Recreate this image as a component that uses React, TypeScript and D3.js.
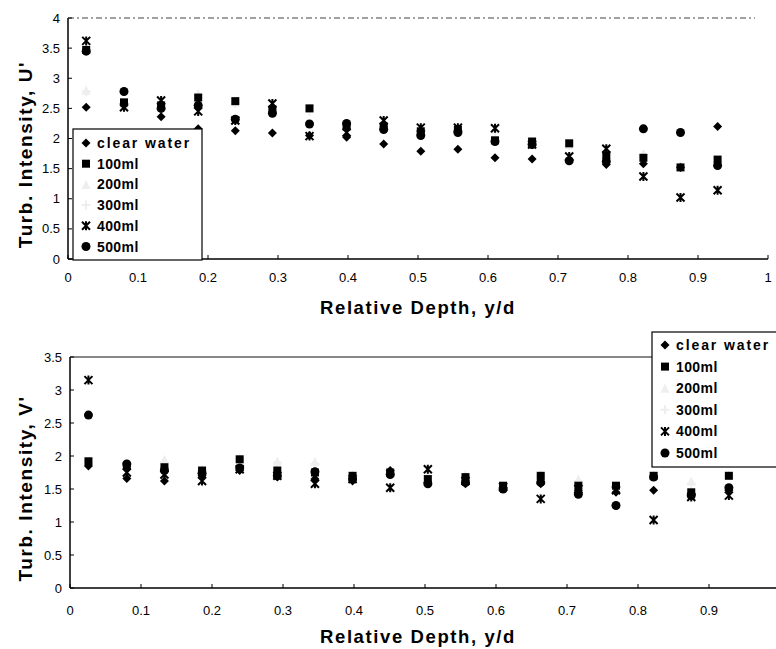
import * as d3 from "d3";

// relative depth positions of the measurement points
const depths = [0.026, 0.08, 0.133, 0.186, 0.239, 0.292, 0.345, 0.398, 0.451, 0.504, 0.557, 0.61, 0.663, 0.716, 0.769, 0.822, 0.875, 0.928];

const seriesNames = ["clear water", "100ml", "200ml", "300ml", "400ml", "500ml"];

// U' values
const uClear = [2.52, 2.55, 2.36, 2.16, 2.13, 2.09, 2.05, 2.02, 1.91, 1.79, 1.82, 1.68, 1.66, 1.64, 1.57, 1.58, 1.52, 2.2];
const u100 = [3.47, 2.6, 2.55, 2.68, 2.62, 2.48, 2.5, 2.2, 2.2, 2.12, 2.15, 1.97, 1.95, 1.92, 1.72, 1.68, 1.52, 1.65];
const u200 = [2.8, 2.57, 2.6, 2.75, 2.6, 2.55, 2.52, 2.25, 2.25, 2.1, 2.18, 2.17, 1.95, 1.9, 1.8, 1.75, 1.55, 1.62];
const u300 = [2.78, 2.55, 2.58, 2.72, 2.58, 2.5, 2.45, 2.22, 2.22, 2.08, 2.12, 2.1, 1.92, 1.88, 1.75, 1.72, 1.53, 1.6];
const u400 = [3.62, 2.52, 2.63, 2.45, 2.3, 2.58, 2.04, 2.1, 2.3, 2.18, 2.18, 2.17, 1.9, 1.7, 1.83, 1.37, 1.02, 1.14];
const u500 = [3.45, 2.78, 2.5, 2.55, 2.32, 2.42, 2.24, 2.25, 2.15, 2.05, 2.1, 1.95, 1.9, 1.63, 1.62, 2.16, 2.1, 1.55];

// V' values
const vClear = [1.85, 1.66, 1.62, 1.7, 1.78, 1.68, 1.65, 1.62, 1.78, 1.6, 1.58, 1.52, 1.58, 1.48, 1.45, 1.48, 1.42, 1.48];
const v100 = [1.92, 1.85, 1.83, 1.78, 1.95, 1.78, 1.75, 1.7, 1.75, 1.65, 1.68, 1.55, 1.7, 1.55, 1.55, 1.7, 1.45, 1.7];
const v200 = [1.92, 1.9, 1.95, 1.8, 1.97, 1.92, 1.92, 1.72, 1.78, 1.72, 1.72, 1.55, 1.72, 1.65, 1.55, 1.72, 1.62, 1.72];
const v300 = [1.9, 1.88, 1.9, 1.78, 1.95, 1.9, 1.88, 1.7, 1.76, 1.7, 1.7, 1.53, 1.7, 1.62, 1.53, 1.7, 1.58, 1.7];
const v400 = [3.15, 1.75, 1.72, 1.62, 1.8, 1.7, 1.58, 1.65, 1.52, 1.8, 1.62, 1.53, 1.35, 1.5, 1.48, 1.03, 1.38, 1.4];
const v500 = [2.62, 1.88, 1.78, 1.74, 1.82, 1.7, 1.76, 1.65, 1.72, 1.58, 1.6, 1.5, 1.6, 1.42, 1.25, 1.68, 1.4, 1.52];

const xTicks = [0, 0.1, 0.2, 0.3, 0.4, 0.5, 0.6, 0.7, 0.8, 0.9, 1];
const uTicks = [0, 0.5, 1, 1.5, 2, 2.5, 3, 3.5, 4];
const vTicks = [0, 0.5, 1, 1.5, 2, 2.5, 3, 3.5];

const markerType = ["diamond", "square", "triangle", "plus", "star", "circle"];
const markerColor = ["#000", "#000", "#eeeeee", "#eeeeee", "#000", "#000"];

const FONT = "'Liberation Sans', Arial, sans-serif";

const Marker = ({ type, x, y, color }) => {
  const s = 4.5;
  if (type === "diamond")
    return <path d={`M${x},${y - s}L${x + s},${y}L${x},${y + s}L${x - s},${y}Z`} fill={color} />;
  if (type === "square") return <rect x={x - 4} y={y - 4} width={8} height={8} fill={color} />;
  if (type === "circle") return <circle cx={x} cy={y} r={4.5} fill={color} />;
  if (type === "triangle")
    return <path d={`M${x},${y - s}L${x + s},${y + s}L${x - s},${y + s}Z`} fill={color} />;
  if (type === "plus")
    return <path d={`M${x - s},${y}H${x + s}M${x},${y - s}V${y + s}`} stroke={color} strokeWidth={2} />;
  // star: x with vertical bar
  return (
    <path
      d={`M${x - 4},${y - 4}L${x + 4},${y + 4}M${x + 4},${y - 4}L${x - 4},${y + 4}M${x},${y - 4.5}V${y + 4.5}`}
      stroke={color}
      strokeWidth={2}
    />
  );
};

const Panel = ({ series, xRange, yRange, yMax, yTicks, yTitle, xTickY, axisEnd, topLine, legend }) => {
  const x = d3.scaleLinear().domain([0, 1]).range(xRange);
  const y = d3.scaleLinear().domain([0, yMax]).range(yRange);
  const x0 = x(0);
  const y0 = y(0);
  const fmt = d3.format("");
  return (
    <g>
      {/* top border */}
      <line x1={x0} x2={topLine.end} y1={y(yMax)} y2={y(yMax)} stroke={topLine.color} strokeWidth={1.2} strokeDasharray={topLine.dash} />
      {/* axes */}
      <line x1={x0} x2={x0} y1={y(yMax)} y2={y0} stroke="#000" strokeWidth={1.5} />
      <line x1={x0} x2={axisEnd} y1={y0} y2={y0} stroke="#000" strokeWidth={1.5} />
      {yTicks.map((t) => (
        <g key={"y" + t}>
          <line x1={x0} x2={x0 + 4} y1={y(t)} y2={y(t)} stroke="#000" />
          <text x={x0 - 8} y={y(t)} dy="0.35em" textAnchor="end" fontSize={13} fontFamily={FONT}>
            {fmt(t)}
          </text>
        </g>
      ))}
      {xTicks.filter((t) => x(t) <= 776).map((t) => (
        <g key={"x" + t}>
          <line x1={x(t)} x2={x(t)} y1={y0} y2={y0 - 4} stroke="#000" />
          <text x={x(t)} y={xTickY} textAnchor="middle" fontSize={13} fontFamily={FONT}>
            {fmt(t)}
          </text>
        </g>
      ))}
      {/* titles */}
      <text x={418} y={y0 + 55} textAnchor="middle" fontSize={18.5} fontWeight="bold" fontFamily={FONT} letterSpacing={1.6}>
        Relative Depth, y/d
      </text>
      <text
        transform={`translate(32,${(y(yMax) + y0) / 2 + 16}) rotate(-90)`}
        textAnchor="middle"
        fontSize={19}
        fontWeight="bold"
        fontFamily={FONT}
        letterSpacing={1.6}
      >
        {yTitle}
      </text>
      {/* points: light series first */}
      {[2, 3, 0, 1, 4, 5].map((si) =>
        series[si].map((v, i) => (
          <Marker key={si + "-" + i} type={markerType[si]} x={x(depths[i])} y={y(v)} color={markerColor[si]} />
        ))
      )}
      {/* legend */}
      <g>
        <rect x={legend.x} y={legend.y} width={legend.w} height={legend.h} fill="#fff" stroke="#000" strokeWidth={1.2} />
        {seriesNames.map((name, i) => {
          const ly = legend.y + legend.first + i * legend.step;
          return (
            <g key={name}>
              <Marker type={markerType[i]} x={legend.x + 13} y={ly} color={markerColor[i]} />
              <text
                x={legend.x + 24}
                y={ly}
                dy="0.36em"
                fontSize={14}
                fontWeight="bold"
                fontFamily={FONT}
                letterSpacing={i === 0 ? 1.9 : 0.4}
              >
                {name}
              </text>
            </g>
          );
        })}
      </g>
    </g>
  );
};

export default function App() {
  return (
    <svg width={776} height={649} style={{ position: "absolute", left: 0, top: 0, background: "#fff" }}>
      <rect width={776} height={649} fill="#fff" />
      <Panel
        series={[uClear, u100, u200, u300, u400, u500]}
        xRange={[68, 768]}
        yRange={[259, 18]}
        yMax={4}
        yTicks={uTicks}
        yTitle="Turb. Intensity, U'"
        xTickY={282}
        axisEnd={768}
        topLine={{ end: 755, color: "#444", dash: "6 3 2 3" }}
        legend={{ x: 73, y: 129, w: 129, h: 131, first: 14, step: 20.7 }}
      />
      <Panel
        series={[vClear, v100, v200, v300, v400, v500]}
        xRange={[70, 780]}
        yRange={[588, 357]}
        yMax={3.5}
        yTicks={vTicks}
        yTitle="Turb. Intensity, V'"
        xTickY={615}
        axisEnd={776}
        topLine={{ end: 776, color: "#111", dash: "none" }}
        legend={{ x: 652, y: 332, w: 130, h: 135, first: 13, step: 21.6 }}
      />
    </svg>
  );
}
